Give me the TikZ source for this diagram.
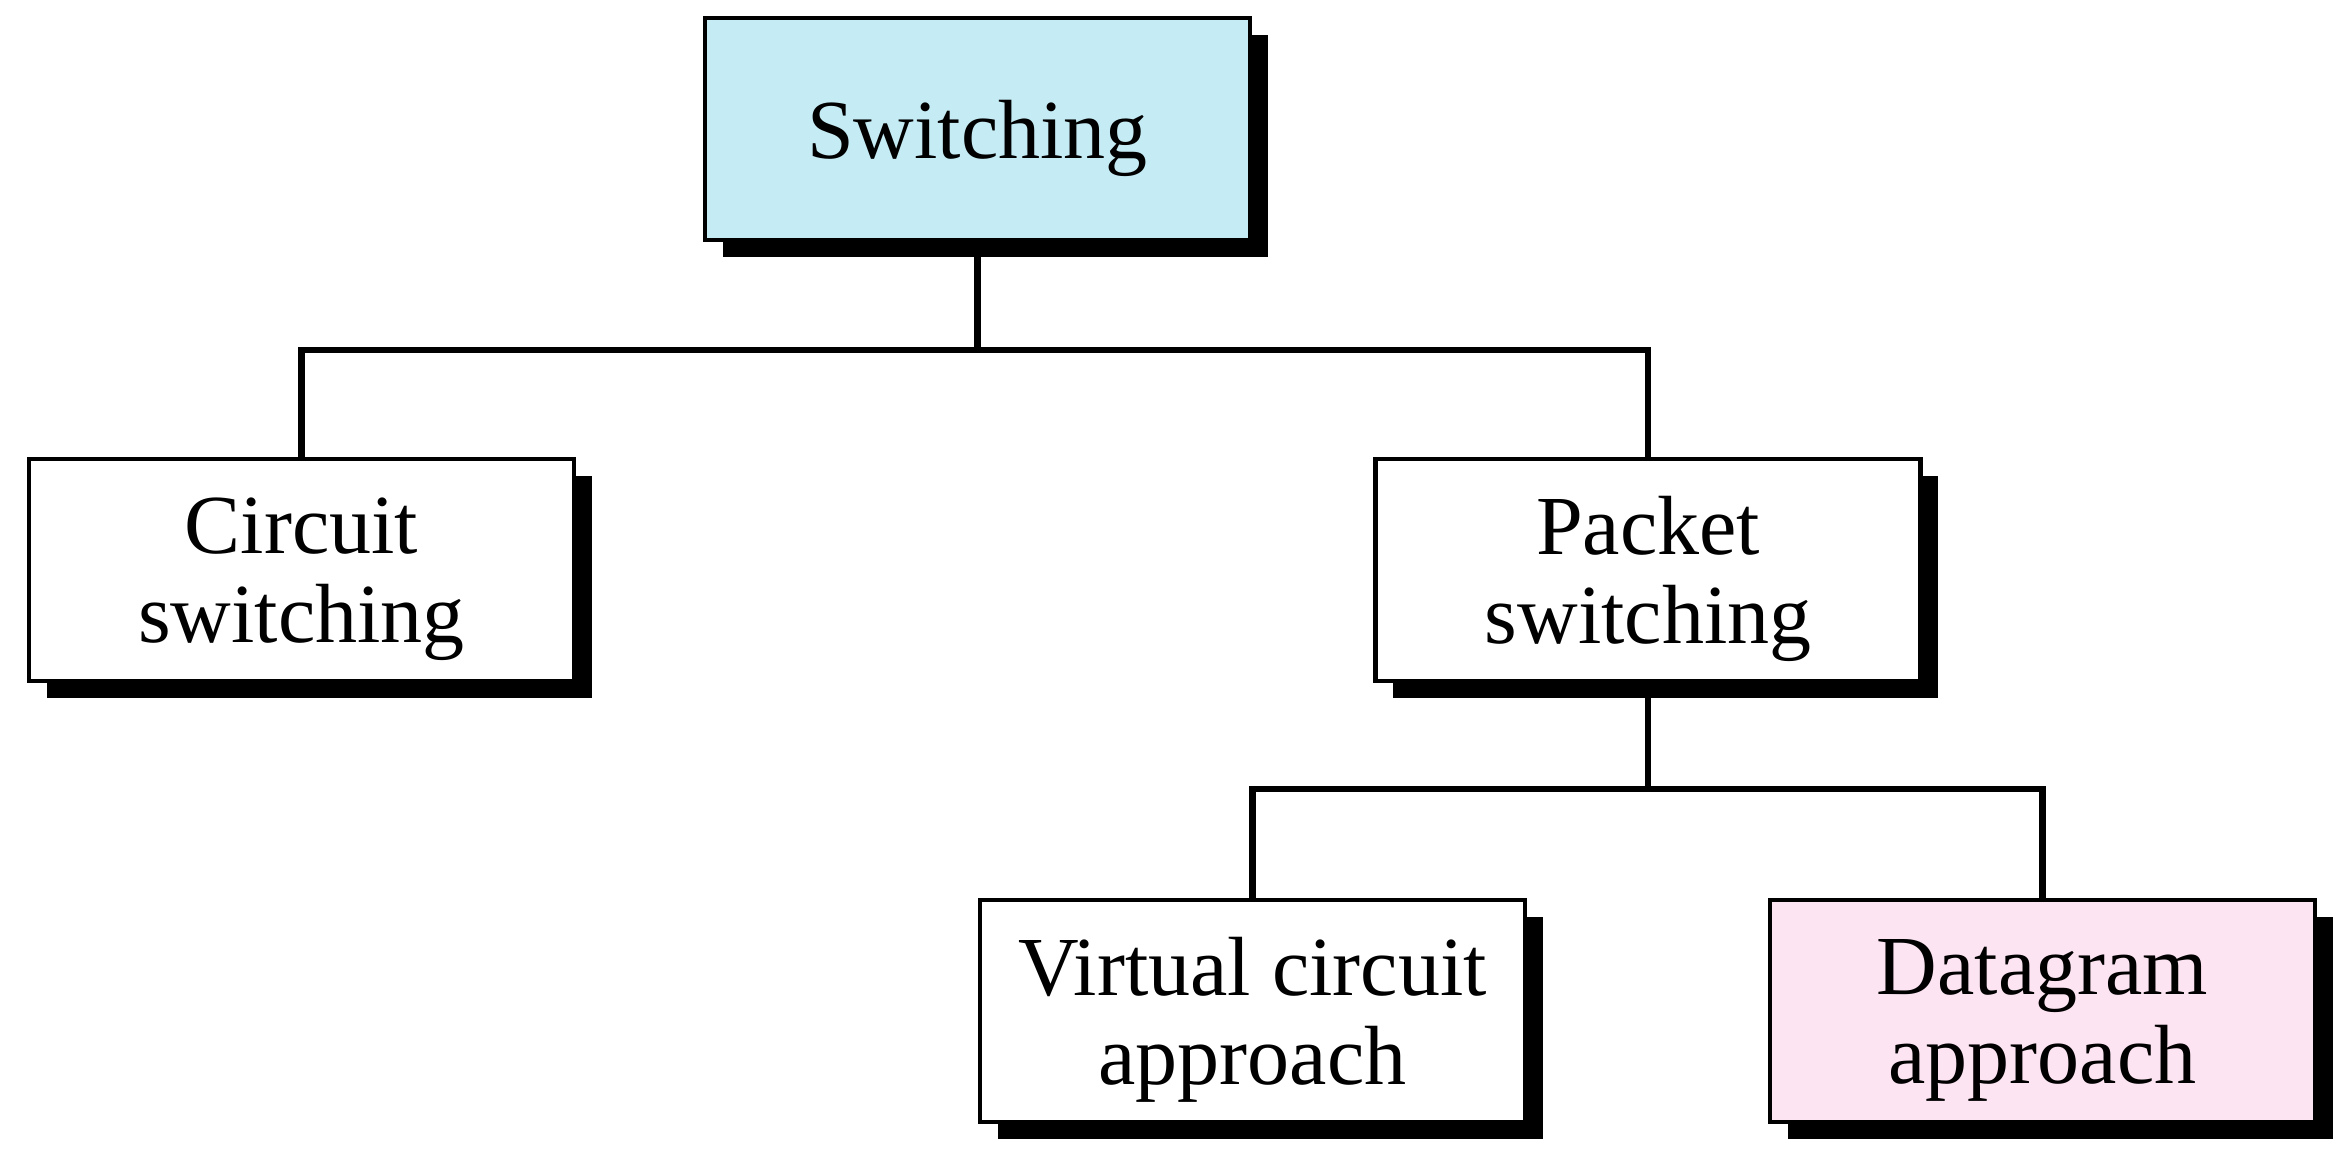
\documentclass[tikz,border=0pt]{standalone}
\usepackage{fontspec}
\setmainfont{Liberation Serif}
\usetikzlibrary{shadows}
\definecolor{topcyan}{HTML}{C5ECF4}
\definecolor{dgpink}{HTML}{FDE4F2}
\begin{document}
\begin{tikzpicture}[x=0.5pt,y=-0.5pt,
  catbox/.style={draw=black, line width=2.4pt, fill=white, inner sep=0pt,
    minimum width=272.5pt, minimum height=111pt,
    drop shadow={shadow xshift=8.8pt, shadow yshift=-8.3pt, opacity=1, fill=black}},
  lbl/.style={inner sep=0pt, align=center, font=\fontsize{42}{44.5}\selectfont},
  link/.style={line width=3.4pt}]
\useasboundingbox (0,0) rectangle (2352,1162);
\coordinate (b1) at (0,350);
\coordinate (b2) at (0,789);
\coordinate (swc) at (977.5,129);
\coordinate (psc) at (1648,570);
\draw[link] (swc) -- (swc |- b1);
\draw[link] (psc) -- (psc |- b2);
\node[catbox, fill=topcyan] (sw) at (swc) {};
\node[catbox] (cs) at (301.5,570) {};
\node[catbox] (ps) at (psc) {};
\node[catbox] (vc) at (1252.5,1011) {};
\node[catbox, fill=dgpink] (dg) at (2042.5,1011) {};
\node[lbl] (swt) at ([yshift=-4.5pt]sw.center) {Switching};
\node[lbl] (cst) at ([yshift=-4.5pt]cs.center) {Circuit\\switching};
\node[lbl] (pst) at ([yshift=-4.5pt]ps.center) {Packet\\switching};
\node[lbl] (vct) at ([yshift=-4.5pt]vc.center) {Virtual circuit\\approach};
\node[lbl] (dgt) at ([yshift=-4.5pt]dg.center) {Datagram\\approach};
\draw[link] (cs.north) -- (cs.north |- b1) -- (ps.north |- b1) -- (ps.north);
\draw[link] (vc.north) -- (vc.north |- b2) -- (dg.north |- b2) -- (dg.north);
\end{tikzpicture}
\end{document}
